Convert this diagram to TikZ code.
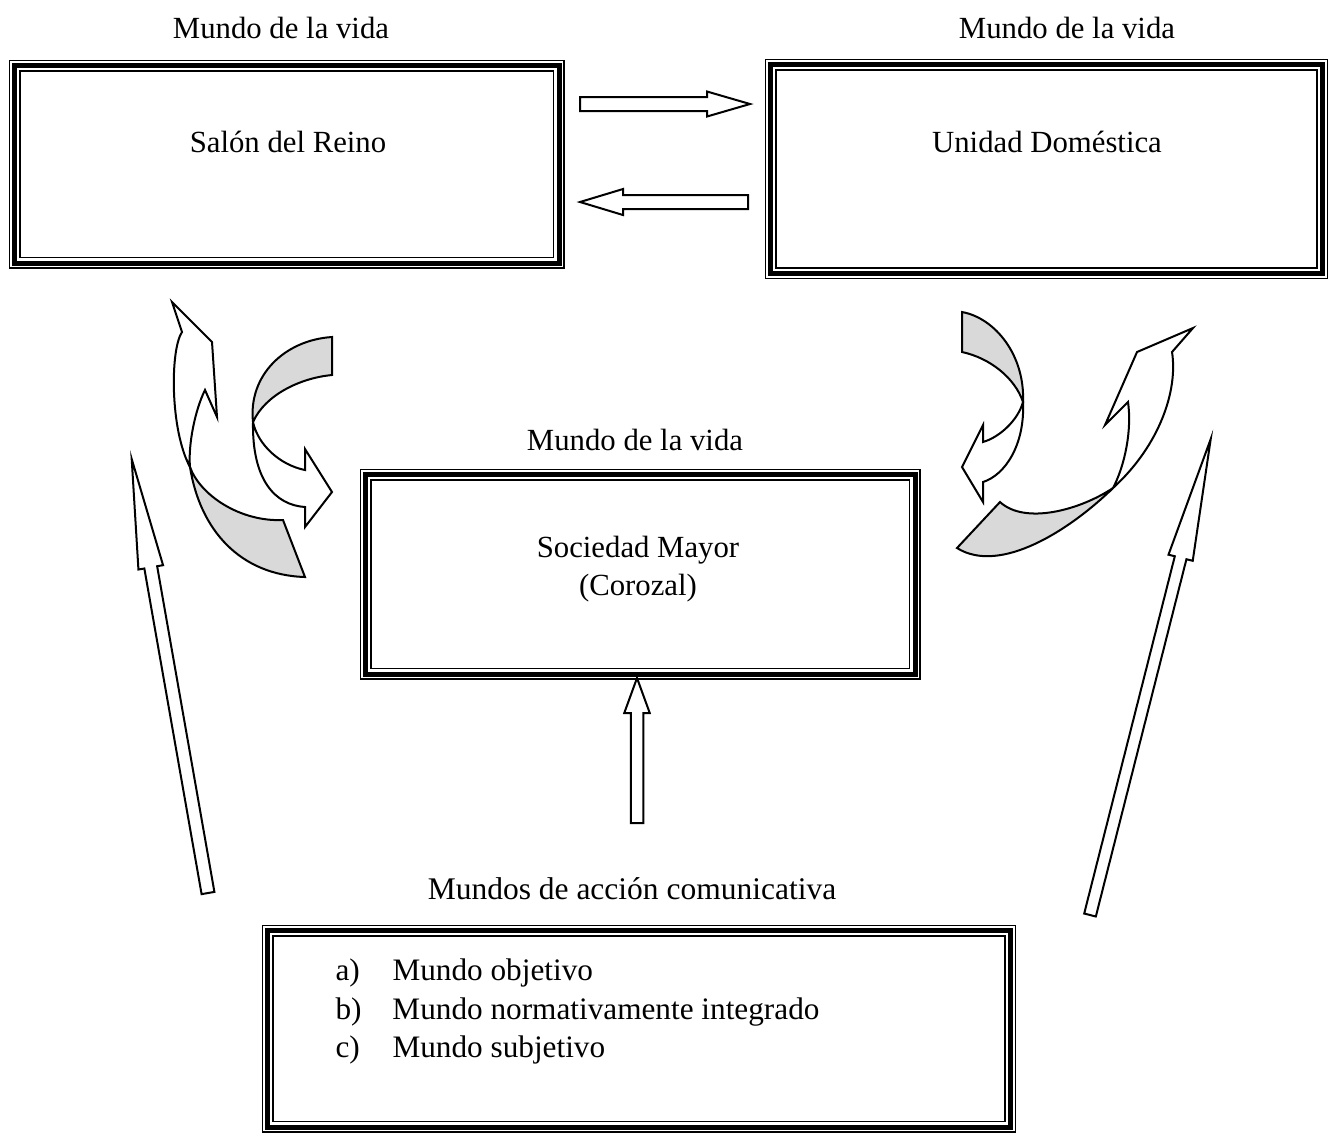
\documentclass[tikz,border=0pt]{standalone}
\usepackage{fontspec}
\setmainfont{Liberation Serif}
\usetikzlibrary{calc,positioning}

\tikzset{
  marco/.style={draw, line width=2pt, outer sep=0pt, inner sep=0pt},
  texto/.style={font=\fontsize{12.3}{15.2}\selectfont, inner sep=0pt},
  flecha/.style={draw, fill=white, line width=0.8pt, line join=miter},
  blanca/.style={draw, fill=white, line width=0.8pt, line join=miter},
  sombra/.style={draw, fill=black!15, line width=0.8pt, line join=miter},
}

% block arrow: tail, tip, half shaft, half head, head length
\newcommand{\bloque}[5]{%
  \path ($(#2)!#5!(#1)$) coordinate (hb);
  \draw[flecha] ($(#1)!#3!90:(#2)$) -- ($(hb)!#3!90:(#2)$) -- ($(hb)!#4!90:(#2)$)
    -- (#2) -- ($(hb)!#4!-90:(#2)$) -- ($(hb)!#3!-90:(#2)$) -- ($(#1)!#3!-90:(#2)$) -- cycle;
}

\begin{document}
\begin{tikzpicture}[x=4pt, y=-4pt]
  \useasboundingbox (0,0) rectangle (132.9,113.4);

  % Boxes
  \node[marco, minimum width=218pt, minimum height=79.2pt] (salon) at (28.65,16.4) {};
  \node[marco, minimum width=221pt, minimum height=83.8pt] (unidad) at (104.67,16.92) {};
  \node[marco, minimum width=220pt, minimum height=80pt] (sociedad) at (64.0,57.4) {};
  \node[marco, minimum width=297.4pt, minimum height=78.8pt] (mundos) at (63.92,102.85) {};

  % thin outer and inner frame lines
  \foreach \b in {salon,unidad,sociedad,mundos} {
    \draw[line width=0.6pt] ([shift={(-1.9pt,1.9pt)}]\b.north west) rectangle ([shift={(1.9pt,-1.9pt)}]\b.south east);
    \draw[line width=0.6pt] ([shift={(2.3pt,-2.3pt)}]\b.north west) rectangle ([shift={(-2.3pt,2.3pt)}]\b.south east);
  }

  % Titles
  \node[texto] (mv1) at (28.1,2.8) {Mundo de la vida};
  \node[texto] (mv2) at (106.7,2.8) {Mundo de la vida};
  \node[texto] (mv3) at (63.5,44.0) {Mundo de la vida};
  \node[texto, font=\fontsize{12.6}{15.2}\selectfont] (mac) at (63.2,88.9) {Mundos de acción comunicativa};

  % Box texts
  \node[texto] (tsalon) at (28.8,14.2) {Salón del Reino};
  \node[texto] (tunidad) at (104.7,14.2) {Unidad Doméstica};
  \node[texto, align=center] (tsoc) at (63.8,56.9) {Sociedad Mayor\\(Corozal)};
  \node[texto, align=left, anchor=west, font=\fontsize{12.5}{15.4}\selectfont] (tlista) at (33.5,101.15)
    {\makebox[22.8pt][l]{a)}Mundo objetivo\\
     \makebox[22.8pt][l]{b)}Mundo normativamente integrado\\
     \makebox[22.8pt][l]{c)}Mundo subjetivo};

  % Straight block arrows
  \coordinate (dA) at (58.0,10.4);
  \coordinate (dB) at (75.0,10.4);
  \bloque{dA}{dB}{2.8pt}{5.0pt}{17.2pt}
  \coordinate (iA) at (74.8,20.2);
  \coordinate (iB) at (58.0,20.2);
  \bloque{iA}{iB}{2.8pt}{5.2pt}{17.2pt}
  \coordinate (sA) at (63.7,82.3);
  \coordinate (sB) at (63.7,67.8);
  \bloque{sA}{sB}{2.5pt}{5.1pt}{14pt}
  \coordinate (lA) at (20.8,89.3);
  \coordinate (lB) at (13.17,45.9);
  \bloque{lA}{lB}{2.6pt}{5pt}{44pt}
  \coordinate (rA) at (109.0,91.5);
  \coordinate (rB) at (121.07,43.9);
  \bloque{rA}{rB}{2.4pt}{5pt}{49pt}

  % Curved arrows, left pair
  \draw[blanca] (19.0,46.7) .. controls (17.0,43.0) and (17.0,35.0) .. (18.2,33.2) -- (17.2,30.2)
    -- (21.2,34.2) -- (21.7,41.7) -- (20.5,39.0) .. controls (19.5,41.0) and (18.8,44.5) .. (19.0,46.7) -- cycle;
  \draw[sombra] (19.0,46.7) .. controls (20.0,53.0) and (24.0,57.5) .. (30.5,57.7) -- (28.3,52.0)
    .. controls (24.0,52.2) and (20.0,49.5) .. (19.0,46.7) -- cycle;
  \draw[sombra] (25.3,42.2) .. controls (24.8,37.5) and (28.5,34.0) .. (33.2,33.7) -- (33.2,37.5)
    .. controls (30.0,37.8) and (26.5,39.5) .. (25.3,42.2) -- cycle;
  \draw[blanca] (25.3,42.2) .. controls (25.8,44.5) and (28.0,46.5) .. (30.5,47.0) -- (30.5,44.9)
    -- (33.2,49.2) -- (30.5,52.7) -- (30.5,50.7) .. controls (27.5,50.5) and (25.2,48.0) .. (25.3,42.2) -- cycle;

  % Curved arrows, right pair
  \draw[sombra] (102.3,40.2) .. controls (102.5,35.5) and (99.5,31.8) .. (96.2,31.2) -- (96.2,35.2)
    .. controls (99.0,35.8) and (101.5,37.8) .. (102.3,40.2) -- cycle;
  \draw[blanca] (102.3,40.2) .. controls (101.8,42.0) and (100.0,43.7) .. (98.3,44.2) -- (98.3,42.5)
    -- (96.2,46.7) -- (98.3,50.2) -- (98.3,48.2) .. controls (100.5,47.5) and (102.5,44.5) .. (102.3,40.2) -- cycle;
  \draw[blanca] (111.3,48.8) .. controls (116.0,44.5) and (117.8,39.0) .. (117.2,35.2) -- (119.3,32.8)
    -- (113.7,35.2) -- (110.5,42.5) -- (112.8,40.2) .. controls (113.2,43.0) and (112.5,46.5) .. (111.3,48.8) -- cycle;
  \draw[sombra] (111.3,48.8) .. controls (108.0,51.0) and (102.5,52.5) .. (100.0,50.2) -- (95.7,54.8)
    .. controls (100.0,57.5) and (107.0,53.0) .. (111.3,48.8) -- cycle;
\end{tikzpicture}
\end{document}
